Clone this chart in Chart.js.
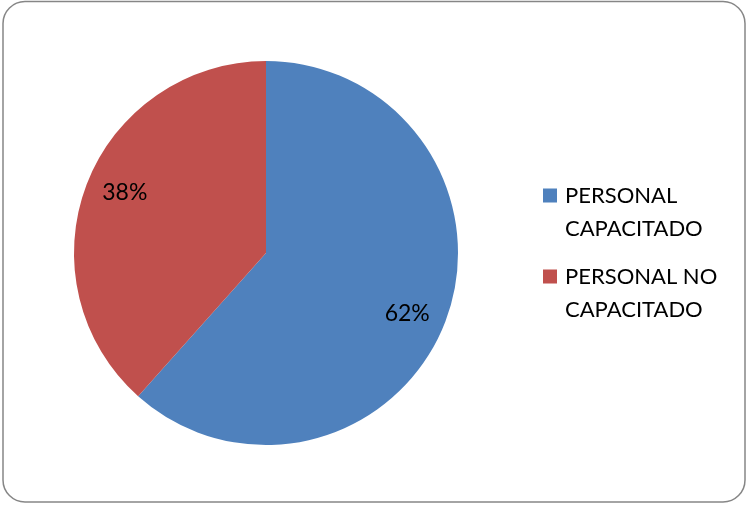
<!DOCTYPE html>
<html>
<head>
    <title>Personal capacitado</title>
    <script src="https://cdn.jsdelivr.net/npm/chart.js"></script>
    <style>
        body { margin: 0; background: #fff; }
    </style>
</head>
<body>
    <canvas id="pieChart" width="747" height="506"></canvas>
    <script>
        const labels = [['PERSONAL', 'CAPACITADO'], ['PERSONAL NO', 'CAPACITADO']];
        const values = [61.6, 38.4];
        const colors = ['#4F81BD', '#C0504D'];
        const fontFamily = 'Lato, "Open Sans", sans-serif';

        // rounded frame around the whole chart
        const framePlugin = {
            id: 'frame',
            beforeDraw(chart) {
                const ctx = chart.ctx;
                ctx.save();
                ctx.fillStyle = '#fff';
                ctx.fillRect(0, 0, chart.width, chart.height);
                ctx.strokeStyle = '#868686';
                ctx.lineWidth = 1.5;
                ctx.beginPath();
                ctx.roundRect(3, 1.5, 742, 500.5, 22);
                ctx.stroke();
                ctx.restore();
            }
        };

        // percent labels inside the slices
        const valueLabels = {
            id: 'valueLabels',
            afterDatasetsDraw(chart) {
                const ctx = chart.ctx;
                const meta = chart.getDatasetMeta(0);
                const total = values.reduce((a, b) => a + b, 0);
                ctx.save();
                ctx.font = '23px ' + fontFamily;
                ctx.fillStyle = '#000';
                ctx.textAlign = 'center';
                ctx.textBaseline = 'middle';
                meta.data.forEach((arc, i) => {
                    const p = arc.getProps(['x', 'y', 'startAngle', 'endAngle', 'outerRadius']);
                    const mid = (p.startAngle + p.endAngle) / 2 + 0.04;
                    const r = p.outerRadius * 0.8;
                    const pct = Math.round(values[i] / total * 100) + '%';
                    ctx.fillText(pct, p.x + Math.cos(mid) * r, p.y + Math.sin(mid) * r);
                });
                ctx.restore();
            }
        };

        // legend on the right with two-line labels
        const sideLegend = {
            id: 'sideLegend',
            afterDraw(chart) {
                const ctx = chart.ctx;
                ctx.save();
                ctx.font = '22px ' + fontFamily;
                ctx.textBaseline = 'middle';
                const tops = [195.5, 276.5];
                labels.forEach((lines, i) => {
                    const y = tops[i];
                    ctx.fillStyle = colors[i];
                    ctx.fillRect(543, y - 7, 14, 14);
                    ctx.fillStyle = '#000';
                    lines.forEach((t, j) => ctx.fillText(t, 565, y + j * 33.5));
                });
                ctx.restore();
            }
        };

        const ctx = document.getElementById('pieChart').getContext('2d');
        new Chart(ctx, {
            type: 'pie',
            data: {
                labels: labels.map(l => l.join(' ')),
                datasets: [{
                    data: values,
                    backgroundColor: colors,
                    borderWidth: 0
                }]
            },
            options: {
                responsive: false,
                animation: false,
                layout: { padding: { left: 74, right: 289, top: 61, bottom: 61 } },
                plugins: {
                    legend: { display: false },
                    tooltip: { enabled: false }
                }
            },
            plugins: [framePlugin, valueLabels, sideLegend]
        });
    </script>
</body>
</html>
